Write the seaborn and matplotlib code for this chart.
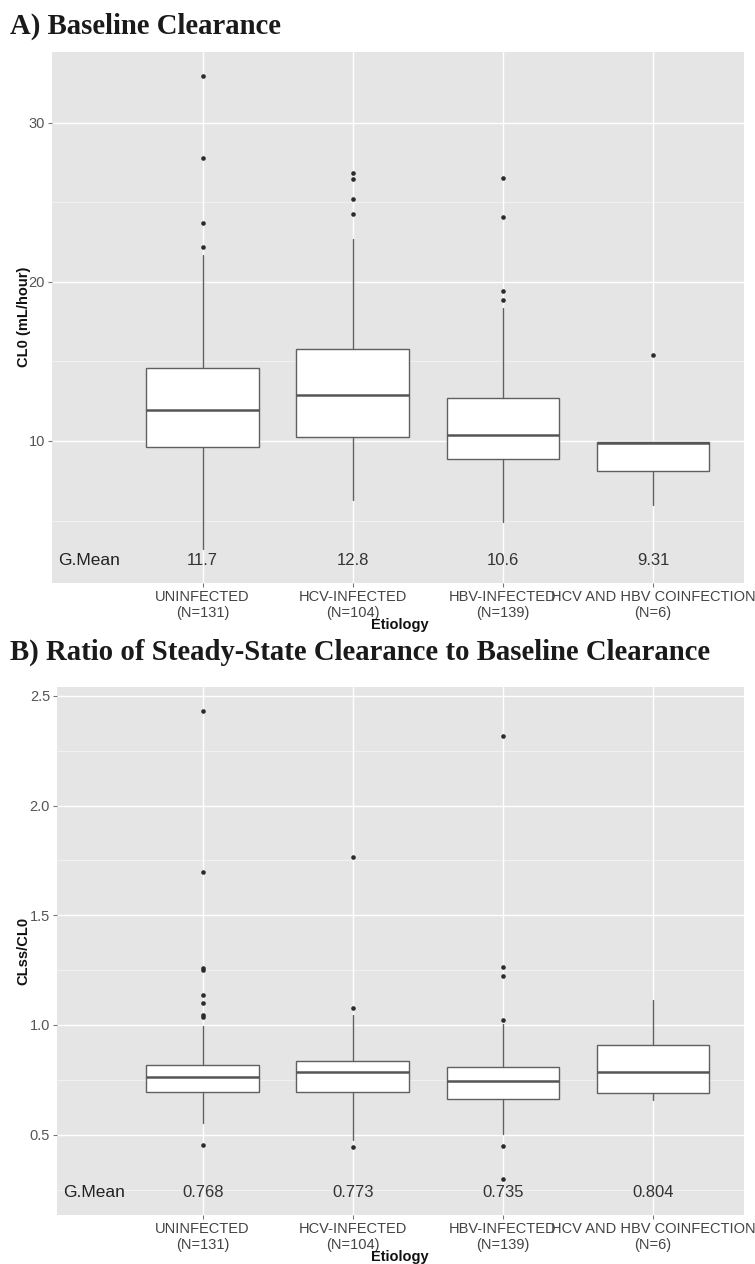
import numpy as np
import pandas as pd
import matplotlib
matplotlib.use("Agg")
import matplotlib.pyplot as plt
import seaborn as sns

# ---- data -------------------------------------------------------------
categories = ["UNINFECTED", "HCV-INFECTED", "HBV-INFECTED", "HCV AND HBV COINFECTION"]
n_subjects = [131, 104, 139, 6]

# Panel A: baseline clearance CL0 (mL/hour)
cl0_whislo = [3.24, 6.27, 4.91, 5.96]
cl0_q1 = [9.64, 10.28, 8.87, 8.12]
cl0_median = [11.95, 12.88, 10.37, 9.87]
cl0_q3 = [14.57, 15.76, 12.72, 9.96]
cl0_whishi = [21.69, 22.67, 18.33, 9.96]
cl0_outliers = [
    [32.95, 27.8, 23.68, 22.17],
    [26.86, 26.44, 25.18, 24.26],
    [26.5, 24.05, 19.45, 18.86],
    [15.4],
]
cl0_gmean = ["11.7", "12.8", "10.6", "9.31"]

# Panel B: ratio CLss/CL0
ratio_whislo = [0.552, 0.478, 0.503, 0.659]
ratio_q1 = [0.694, 0.695, 0.664, 0.690]
ratio_median = [0.762, 0.786, 0.743, 0.786]
ratio_q3 = [0.818, 0.838, 0.810, 0.908]
ratio_whishi = [0.995, 1.046, 1.003, 1.114]
ratio_outliers = [
    [2.429, 1.695, 1.258, 1.251, 1.135, 1.101, 1.045, 1.036, 0.454],
    [1.764, 1.076, 0.446],
    [2.315, 1.266, 1.224, 1.022, 0.449, 0.300],
    [],
]
ratio_gmean = ["0.768", "0.773", "0.735", "0.804"]

# ---- style ------------------------------------------------------------
sns.set_theme(style="darkgrid", rc={
    "axes.facecolor": "#E5E5E5",
    "grid.color": "white",
    "axes.edgecolor": "#E5E5E5",
})
plt.rcParams["font.family"] = ["Liberation Sans", "DejaVu Sans"]

W, H = 755, 1264
fig = plt.figure(figsize=(W / 100, H / 100), dpi=100)
fig.patch.set_facecolor("white")


def px_axes(left, right, top, bottom):
    return fig.add_axes([left / W, 1 - bottom / H, (right - left) / W, (bottom - top) / H])


BOX_EDGE = "#606060"


def draw_panel(ax, whislo, q1, med, q3, whishi, outliers, gmeans,
               ylim, xlim, yticks, minor, gmean_y, ylabel, ylabel_xy, xlabel_xy):
    # outlier points drawn with seaborn on the categorical axis
    rows = [(categories[i], v) for i, vals in enumerate(outliers) for v in vals]
    df = pd.DataFrame(rows, columns=["Etiology", "value"])
    sns.stripplot(data=df, x="Etiology", y="value", order=categories, jitter=False,
                  color="#2b2b2b", size=3.3, linewidth=0, ax=ax, zorder=4)

    stats = []
    for i in range(len(categories)):
        stats.append(dict(whislo=whislo[i], q1=q1[i], med=med[i], q3=q3[i],
                          whishi=whishi[i], fliers=[]))
    ax.bxp(stats, positions=range(len(categories)), widths=0.75, patch_artist=True,
           showfliers=False, showcaps=False,
           boxprops=dict(facecolor="white", edgecolor=BOX_EDGE, linewidth=1.0),
           medianprops=dict(color="#555555", linewidth=1.8),
           whiskerprops=dict(color=BOX_EDGE, linewidth=1.0),
           manage_ticks=False, zorder=3)

    ax.set_xlim(*xlim)
    ax.set_ylim(*ylim)
    ax.set_axisbelow(True)
    ax.set_yticks(yticks)
    ax.set_yticks(minor, minor=True)
    ax.grid(True, which="major", axis="both", color="white", linewidth=1.0)
    ax.grid(True, which="minor", axis="y", color="white", linewidth=0.5, alpha=0.7)
    ax.set_xticks(range(len(categories)))
    ax.set_xticklabels([f"{c}\n(N={n})" for c, n in zip(categories, n_subjects)],
                       fontsize=10.5, color="#444444", linespacing=1.15)
    ax.set_yticklabels([f"{t:g}" if isinstance(t, int) else f"{t:.1f}" for t in yticks],
                       fontsize=10.5, color="#555555")
    ax.tick_params(axis="both", which="major", length=3, width=0.8, color="#777777",
                   pad=2, bottom=True, left=True)
    ax.tick_params(axis="both", which="minor", length=0)
    ax.set_xlabel("")
    ax.set_ylabel("")
    for s in ax.spines.values():
        s.set_visible(False)

    ax.text(xlim[0] + 0.04, gmean_y, "G.Mean", ha="left", va="center",
            fontsize=12.5, color="#222222")
    for i, g in enumerate(gmeans):
        ax.text(i, gmean_y, g, ha="center", va="center", fontsize=12, color="#333333")

    fig.text(ylabel_xy[0] / W, 1 - ylabel_xy[1] / H, ylabel, rotation=90,
             ha="center", va="center", fontsize=10.5, fontweight="bold", color="#111111")
    fig.text(xlabel_xy[0] / W, 1 - xlabel_xy[1] / H, "Etiology",
             ha="center", va="center", fontsize=10.5, fontweight="bold", color="#111111")


# ---- panel A ----------------------------------------------------------
fig.text(10 / W, 1 - 26 / H, "A) Baseline Clearance", ha="left", va="center",
         family=["Liberation Serif", "DejaVu Serif"], fontweight="bold", fontsize=20.7,
         color="#1a1a1a")
axA = px_axes(52, 744, 52, 583)
draw_panel(axA, cl0_whislo, cl0_q1, cl0_median, cl0_q3, cl0_whishi, cl0_outliers,
           cl0_gmean, ylim=(1.08, 34.43), xlim=(-1.003, 3.606),
           yticks=[10, 20, 30], minor=[5, 15, 25], gmean_y=2.5,
           ylabel="CL0 (mL/hour)", ylabel_xy=(24, 317), xlabel_xy=(400, 625))

# ---- panel B ----------------------------------------------------------
fig.text(10 / W, 1 - 652 / H, "B) Ratio of Steady-State Clearance to Baseline Clearance",
         ha="left", va="center", family=["Liberation Serif", "DejaVu Serif"],
         fontweight="bold", fontsize=20.7, color="#1a1a1a")
axB = px_axes(57, 744, 687, 1215)
draw_panel(axB, ratio_whislo, ratio_q1, ratio_median, ratio_q3, ratio_whishi,
           ratio_outliers, ratio_gmean, ylim=(0.134, 2.54), xlim=(-0.97, 3.606),
           yticks=[0.5, 1.0, 1.5, 2.0, 2.5], minor=[0.25, 0.75, 1.25, 1.75, 2.25],
           gmean_y=0.235, ylabel="CLss/CL0", ylabel_xy=(23, 951), xlabel_xy=(400, 1257))

fig.savefig("out.png", dpi=100, facecolor="white")
